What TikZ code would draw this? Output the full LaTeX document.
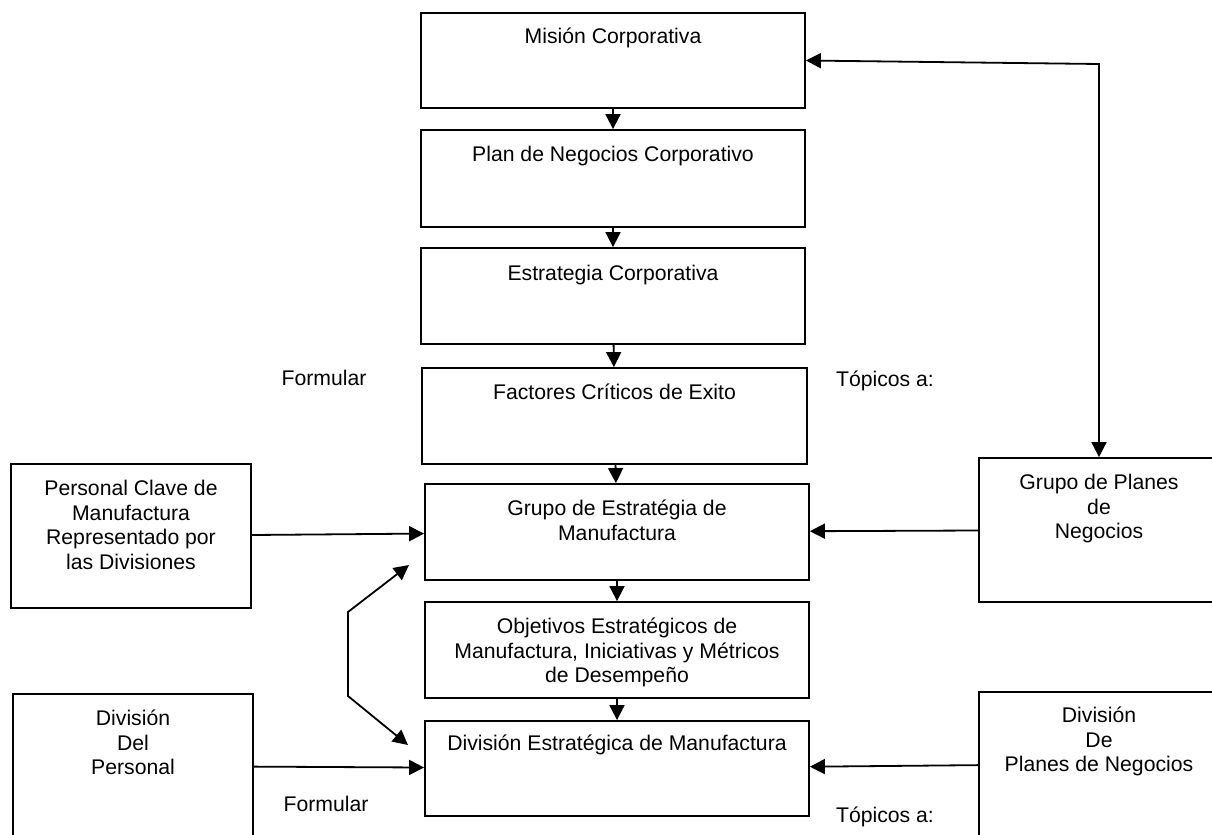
\documentclass[tikz,border=0pt]{standalone}
\usepackage{fontspec}
\setmainfont{Liberation Sans}
\usetikzlibrary{arrows.meta}
\begin{document}
\begin{tikzpicture}[x=0.5pt,y=-0.5pt,
  font=\fontsize{10.6}{12.25}\selectfont,
  box/.style={draw=black, line width=0.9pt, rectangle, inner sep=0pt},
  wide/.style={box, minimum width=192pt, minimum height=48pt},
  side/.style={box, minimum width=120pt, minimum height=72pt},
  txt/.style={anchor=base, align=center, inner sep=0pt},
  tip/.style={Triangle[length=7.5pt,width=7.5pt]},
  arr/.style={line width=0.9pt, -{Triangle[length=7.5pt,width=7.5pt]}},
  darr/.style={line width=0.9pt, {Triangle[length=7.5pt,width=7.5pt]}-{Triangle[length=7.5pt,width=7.5pt]}}]
\useasboundingbox (0,0) rectangle (1212,835);
\clip (0,0) rectangle (1212,835);

% central column
\node[wide, minimum height=47.5pt] (B1) at (613,60.5) {};
\node[wide, minimum height=48.5pt] (B2) at (613,178.5) {};
\node[wide] (B3) at (613,296) {};
\node[wide, minimum width=192.5pt] (B4) at (614.5,416) {};
\node[wide] (B5) at (617,532) {};
\node[wide] (B6) at (617,650) {};
\node[wide, minimum height=47.5pt] (B7) at (617,768.5) {};

% box texts (multi-line texts are placed by the baseline of their last line)
\node[txt] (t1) at (613,43.5) {Misión Corporativa};
\node[txt] (t2) at (613,161.5) {Plan de Negocios Corporativo};
\node[txt] (t3) at (613,280.5) {Estrategia Corporativa};
\node[txt] (t4) at (614.5,399.5) {Factores Críticos de Exito};
\node[txt] (t5) at (617,540) {Grupo de Estratégia de\\Manufactura};
\node[txt] (t6) at (617,682.5) {Objetivos Estratégicos de\\Manufactura, Iniciativas y Métricos\\de Desempeño};
\node[txt] (t7) at (617,750.5) {División Estratégica de Manufactura};

% side boxes
\node[side] (PK) at (131,536) {};
\node[side] (DP) at (133,766) {};
\node[side] (GP) at (1099,530) {};
\node[side] (DN) at (1099,764) {};

\node[txt] (tPK) at (131,569) {Personal Clave de\\Manufactura\\Representado por\\las Divisiones};
\node[txt] (tDP) at (133,774.5) {División\\Del\\Personal};
\node[txt] (tGP) at (1099,538.5) {Grupo de Planes\\de\\Negocios};
\node[txt] (tDN) at (1099,771.5) {División\\De\\Planes de Negocios};

% free labels
\node[txt] (f1) at (324,385.5) {Formular};
\node[txt] (p1) at (885,386.5) {Tópicos a:};
\node[txt] (f2) at (326,811.5) {Formular};
\node[txt] (p2) at (885,822.5) {Tópicos a:};

% column flow
\draw[arr] (B1) -- (B2);
\draw[arr] (B2) -- (B3);
\draw[arr] (B3) -- (B4);
\draw[arr] (B4) -- (B5);
\draw[arr] (B5) -- (B6);
\draw[arr] (B6) -- (B7);

% inputs from the sides
\draw[arr] (PK) -- (B5);
\draw[arr] (DP) -- (B7);
\draw[arr] (GP) -- (B5);
\draw[arr] (DN) -- (B7);

% feedback between the business plans group and the mission
\coordinate (fb) at (1099,64);
\draw[darr] (B1.east) -- (fb) -- (GP.north);

% link between the strategy group and the strategic division
\coordinate (la) at (409,565);
\coordinate (lb) at (348,612);
\coordinate (lc) at (348,696);
\coordinate (ld) at (408,745);
\draw[darr] (la) -- (lb) -- (lc) -- (ld);
\end{tikzpicture}
\end{document}
